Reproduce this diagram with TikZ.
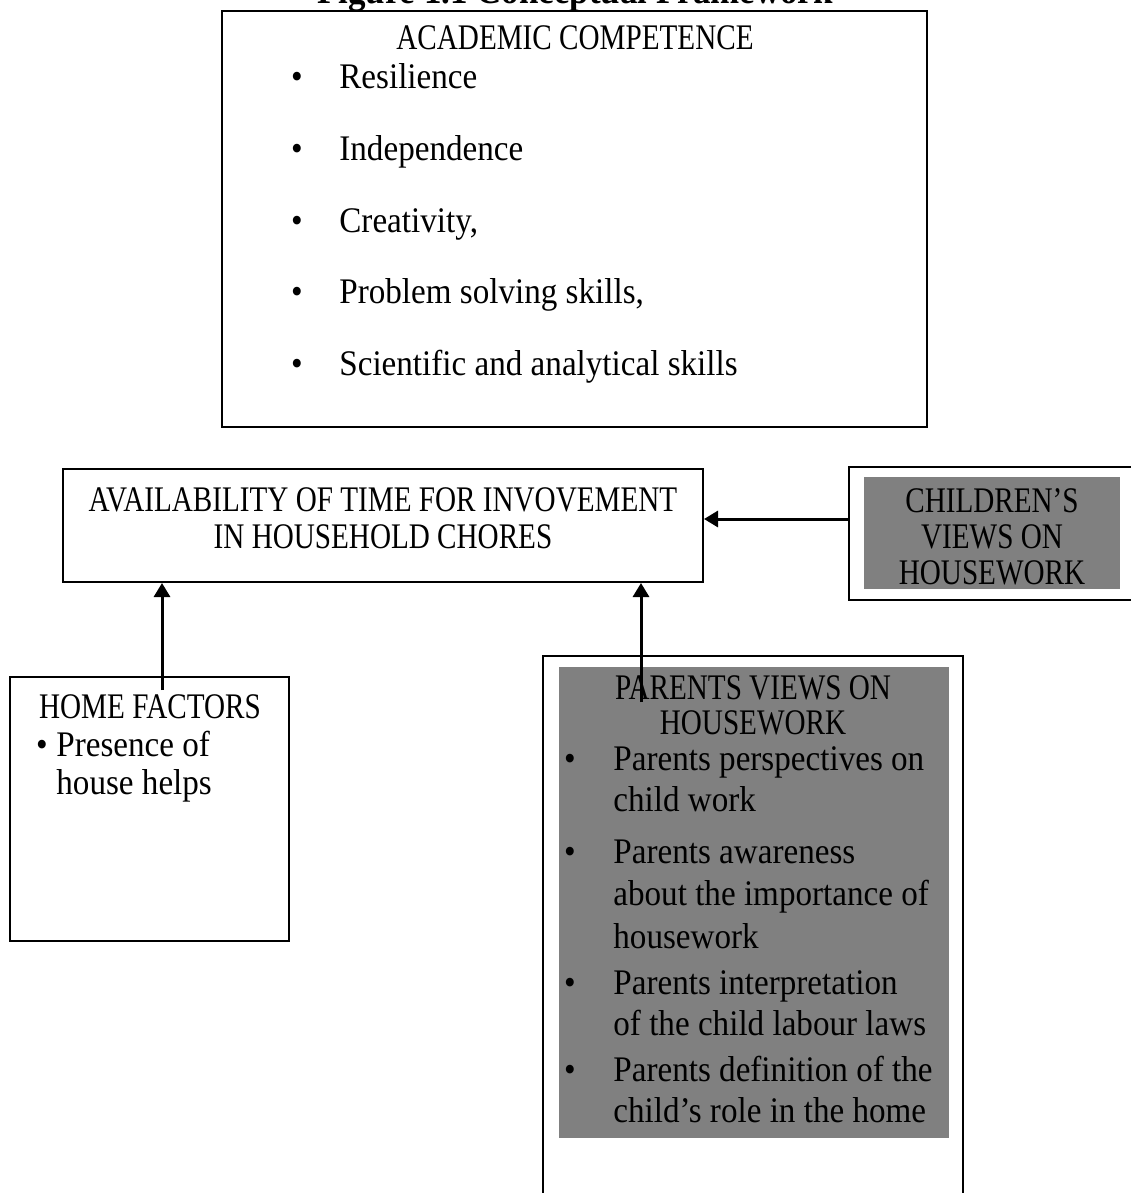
\documentclass[tikz,border=0pt]{standalone}
\usepackage{fontspec}
\setmainfont{Liberation Serif}
\newfontfamily\headfont[FakeStretch=0.81]{Liberation Serif}
\newfontfamily\bodyfont[FakeStretch=0.92]{Liberation Serif}
\usetikzlibrary{fit,arrows.meta}

\tikzset{
  box/.style={draw, line width=1pt, inner sep=0pt},
  greybox/.style={fill=gray, inner sep=0pt},
  heading/.style={font=\headfont\fontsize{18}{21}\selectfont, anchor=base, inner sep=0pt},
  txt/.style={font=\bodyfont\fontsize{18}{21}\selectfont, anchor=base west, inner sep=0pt},
  dot/.style={font=\bodyfont\fontsize{18}{21}\selectfont, anchor=base, inner sep=0pt},
  arr/.style={line width=1.5pt, -{Triangle[length=7pt, width=8pt]}}
}

\begin{document}
\begin{tikzpicture}[x=0.5pt, y=-0.5pt]
            \useasboundingbox (0,0) rectangle (1130,1193);
            \node[font=\bodyfont\bfseries\fontsize{19}{22}\selectfont, anchor=base] (title) at (575,4) {Figure 1.1 Conceptual Framework};

            \node[box, fit={(222,11) (927,427)}] (academic) {};
            \node[heading] (acadhead) at (575,50) {ACADEMIC COMPETENCE};
            \foreach \skill [count=\i] in {Resilience, Independence, {Creativity,}, {Problem solving skills,}, Scientific and analytical skills} {
                \node[dot] (acaddot\i) at (297, {89+71.5*(\i-1)}) {\textbullet};
                \node[txt] (acaditem\i) at (339, {89+71.5*(\i-1)}) {\skill};
            }

            \node[box, fit={(63,469) (703,582)}] (avail) {};
            \node[heading] (availtop) at (383,511) {AVAILABILITY OF TIME FOR INVOVEMENT};
            \node[heading] (availbot) at (383,548) {IN HOUSEHOLD CHORES};

            \node[box, fit={(849,467) (1140,600)}] (kids) {};
            \node[greybox, fit={(864,477) (1120,589)}] (kidsfill) {};
            \node[heading] (kids1) at (992,512) {CHILDREN’S};
            \node[heading] (kids2) at (992,548) {VIEWS ON};
            \node[heading] (kids3) at (992,584) {HOUSEWORK};

            \node[box, fit={(10,677) (289,941)}] (home) {};
            \node[heading] (homehead) at (150,718) {HOME FACTORS};
            \node[dot] (homedot) at (42,756) {\textbullet};
            \node[txt] (homeitem1) at (56,756) {Presence of};
            \node[txt] (homeitem2) at (56,794) {house helps};

            \node[box, fit={(543,656) (963,1210)}] (parents) {};
            \node[greybox, fit={(559,667) (949,1138)}] (parentsfill) {};
            \node[heading] (parhead1) at (753,699) {PARENTS VIEWS ON};
            \node[heading] (parhead2) at (753,734) {HOUSEWORK};
            \foreach \y in {770, 863, 994, 1081}
                \node[dot] (pardot\y) at (570,\y) {\textbullet};
            \foreach \y/\line [count=\i] in {770/Parents perspectives on, 811/child work, 863/Parents awareness, 905/about the importance of, 948/housework, 994/Parents interpretation, 1035/of the child labour laws, 1081/Parents definition of the, 1122/child’s role in the home}
                \node[txt] (paritem\i) at (613,\y) {\line};

            \coordinate (homeout) at (162,690);
            \coordinate (parout) at (641,702);
            \coordinate (kidsout) at (849,519);
            \draw[arr] (homeout) -- (homeout |- avail.south);
            \draw[arr] (parout) -- (parout |- avail.south);
            \draw[arr] (kidsout) -- (kidsout -| avail.east);
\end{tikzpicture}
\end{document}
